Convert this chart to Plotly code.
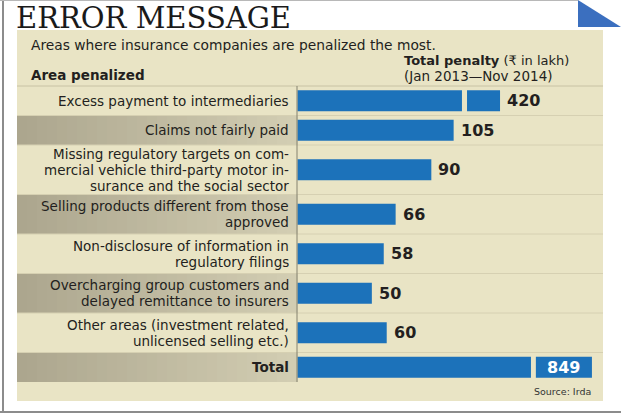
import plotly.graph_objects as go

# ---------------- data ----------------
title_text = "ERROR MESSAGE"
subtitle_text = "Areas where insurance companies are penalized the most."
left_header = "Area penalized"
right_header_1 = "Total penalty"
right_header_unit = "(₹ in lakh)"
right_header_2 = "(Jan 2013—Nov 2014)"
source_text = "Source: Irda"

categories = [
    "Excess payment to intermediaries",
    "Claims not fairly paid",
    "Missing regulatory targets on com-<br>mercial vehicle third-party motor in-<br>surance and the social sector",
    "Selling products different from those<br>approved",
    "Non-disclosure of information in<br>regulatory filings",
    "Overcharging group customers and<br>delayed remittance to insurers",
    "Other areas (investment related,<br>unlicensed selling etc.)",
    "Total",
]
penalty = [420, 105, 90, 66, 58, 50, 60, 849]

# ---------------- style ----------------
W, H = 621, 414
BEIGE = "#e9e4c5"
BLUE = "#1c72ba"
DARK = "#231f20"
SANS = "DejaVu Sans"
PX_PER_UNIT = 1.487
ZERO_PX = 297.5
# axis-break styling for the oversized bars (index -> main end, stub start, stub end, in axis units)
BREAKS = {0: (110.6, 114.0, 136.2), 7: (157.0, 160.3, 198.0)}

ROW_TOP = 86
ROW_BASE = 19.5
ROW_PER_LINE = 10
LABEL_SIZE = 13.5
LINE_GAP = 15.8
PANEL = (17, 30, 603, 401)
DIVIDER_X = 297
LABEL_RIGHT = 290

def xp(x):
    return x / W

def yp(y):
    return 1 - y / H

# row geometry from number of label lines
n_lines = [c.count("<br>") + 1 for c in categories]
tops, centers = [], []
y = ROW_TOP
for n in n_lines:
    h = ROW_BASE + ROW_PER_LINE * n
    tops.append((y, y + h))
    centers.append(y + h / 2)
    y += h

shapes = []
# outer frame lines
shapes.append(dict(type="line", xref="paper", yref="paper", x0=xp(3), x1=xp(3), y0=yp(0), y1=yp(413),
                   line=dict(color="#8c8c8c", width=2)))
shapes.append(dict(type="line", xref="paper", yref="paper", x0=0, x1=1, y0=yp(412), y1=yp(412),
                   line=dict(color="#8c8c8c", width=2)))
shapes.append(dict(type="line", xref="paper", yref="paper", x0=0, x1=xp(578), y0=yp(0.5), y1=yp(0.5),
                   line=dict(color="#b8b8b8", width=1)))
# blue corner triangle
shapes.append(dict(type="path", xref="paper", yref="paper",
                   path=f"M {xp(578)},{yp(0)} L {xp(578)},{yp(27)} L {xp(621)},{yp(27)} Z",
                   fillcolor="#3b6fbf", line=dict(width=0)))
# beige panel
shapes.append(dict(type="rect", xref="paper", yref="paper", x0=xp(PANEL[0]), x1=xp(PANEL[2]),
                   y0=yp(PANEL[3]), y1=yp(PANEL[1]), fillcolor=BEIGE, line=dict(width=0), layer="below"))

# gradient grey shading for alternate rows (left part)
def lerp(c1, c2, t):
    return "rgb(%d,%d,%d)" % tuple(round(a + (b - a) * t) for a, b in zip(c1, c2))

g_left, g_right = (172, 166, 142), (210, 205, 178)
N = 28
for i, (t0, t1) in enumerate(tops):
    if i % 2 == 1:
        for k in range(N):
            xa = PANEL[0] + (DIVIDER_X - PANEL[0]) * k / N
            xb = PANEL[0] + (DIVIDER_X - PANEL[0]) * (k + 1) / N + 0.6
            shapes.append(dict(type="rect", xref="paper", yref="paper", x0=xp(xa), x1=xp(xb),
                               y0=yp(t1), y1=yp(t0), fillcolor=lerp(g_left, g_right, k / (N - 1)),
                               line=dict(width=0), layer="below"))
# row separators
for i, (t0, t1) in enumerate(tops):
    shapes.append(dict(type="line", xref="paper", yref="paper", x0=xp(PANEL[0]), x1=xp(PANEL[2]),
                       y0=yp(t0), y1=yp(t0),
                       line=dict(color="#c8c2a4" if i == 0 else "#d6d0b2", width=1), layer="below"))
# vertical divider
shapes.append(dict(type="line", xref="paper", yref="paper", x0=xp(DIVIDER_X), x1=xp(DIVIDER_X),
                   y0=yp(tops[-1][1]), y1=yp(ROW_TOP), line=dict(color="#85826f", width=1)))

# ---------------- bars ----------------
main_len, stub_base, stub_len, stub_y = [], [], [], []
for i, v in enumerate(penalty):
    if i in BREAKS:
        a, b, c = BREAKS[i]
        main_len.append(a)
        stub_base.append(b)
        stub_len.append(c - b)
        stub_y.append(centers[i])
    else:
        main_len.append(v)

fig = go.Figure()
fig.add_trace(go.Bar(x=main_len, y=centers, orientation="h", width=21,
                     marker=dict(color=BLUE, line=dict(width=0)), hoverinfo="skip"))
fig.add_trace(go.Bar(x=stub_len, base=stub_base, y=stub_y, orientation="h", width=21,
                     marker=dict(color=BLUE, line=dict(width=0)), hoverinfo="skip"))

annotations = []
# value labels
for i, v in enumerate(penalty):
    if i == len(penalty) - 1:
        a, b, c = BREAKS[i]
        annotations.append(dict(x=(b + c) / 2, y=centers[i], xref="x", yref="y", text=f"<b>{v}</b>",
                                showarrow=False, xanchor="center", yanchor="middle",
                                font=dict(family=SANS, size=16, color="white")))
    else:
        end = BREAKS[i][2] if i in BREAKS else v
        annotations.append(dict(x=end, y=centers[i], xref="x", yref="y", text=f"<b>{v}</b>",
                                showarrow=False, xanchor="left", yanchor="middle", xshift=5,
                                font=dict(family=SANS, size=16, color=DARK)))
# row labels, one annotation per line for tight leading
for i, c in enumerate(categories):
    lines = c.split("<br>")
    n = len(lines)
    for j, ln in enumerate(lines):
        yy = centers[i] + (j - (n - 1) / 2) * LINE_GAP
        txt = f"<b>{ln}</b>" if i == len(categories) - 1 else ln
        annotations.append(dict(x=xp(LABEL_RIGHT), y=yp(yy), xref="paper", yref="paper", text=txt,
                                showarrow=False, xanchor="right", yanchor="middle", borderpad=0,
                                font=dict(family=SANS, size=LABEL_SIZE, color=DARK)))

# header texts
annotations.append(dict(x=xp(15), y=1, xref="paper", yref="paper", text=title_text, showarrow=False,
                        xanchor="left", yanchor="top", borderpad=0,
                        font=dict(family="DejaVu Serif", size=29, color="#1a1a1a")))
annotations.append(dict(x=xp(29), y=yp(45), xref="paper", yref="paper", text=subtitle_text, showarrow=False,
                        xanchor="left", yanchor="middle", font=dict(family=SANS, size=13.8, color=DARK)))
annotations.append(dict(x=xp(29), y=yp(75), xref="paper", yref="paper", text=f"<b>{left_header}</b>",
                        showarrow=False, xanchor="left", yanchor="middle",
                        font=dict(family=SANS, size=13.5, color=DARK)))
annotations.append(dict(x=xp(403), y=yp(61), xref="paper", yref="paper",
                        text=f"<b>{right_header_1}</b> {right_header_unit}", showarrow=False,
                        xanchor="left", yanchor="middle", borderpad=0,
                        font=dict(family=SANS, size=13, color=DARK)))
annotations.append(dict(x=xp(403), y=yp(76), xref="paper", yref="paper", text=right_header_2,
                        showarrow=False, xanchor="left", yanchor="middle", borderpad=0,
                        font=dict(family=SANS, size=13.5, color=DARK)))
annotations.append(dict(x=xp(593), y=yp(391), xref="paper", yref="paper", text=source_text,
                        showarrow=False, xanchor="right", yanchor="middle",
                        font=dict(family=SANS, size=9.5, color="#333333")))

fig.update_layout(
    width=W, height=H, margin=dict(l=0, r=0, t=0, b=0),
    paper_bgcolor="white", plot_bgcolor="rgba(0,0,0,0)",
    showlegend=False, barmode="overlay",
    xaxis=dict(range=[-ZERO_PX / PX_PER_UNIT, (W - ZERO_PX) / PX_PER_UNIT], domain=[0, 1],
               visible=False, fixedrange=True),
    yaxis=dict(range=[H, 0], domain=[0, 1], visible=False, fixedrange=True),
    shapes=shapes, annotations=annotations,
)

fig.write_html("out.html", config={"displayModeBar": False},
               post_script="document.body.style.margin='0px';")
